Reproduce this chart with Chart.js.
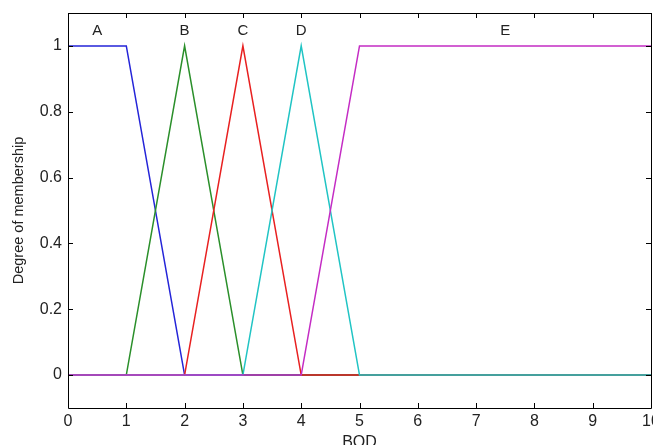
<!DOCTYPE html>
<html>
<head>
<meta charset="utf-8">
<script src="https://cdn.jsdelivr.net/npm/chart.js@4"></script>
<style>
  html, body { margin: 0; padding: 0; background: #fff; overflow: hidden; }
  #wrap { width: 653px; height: 445px; }
</style>
</head>
<body>
<div id="wrap"><canvas id="mf-chart"></canvas></div>
<script>
/*
Membership function data (BOD)
*/
const mfNames = ["A", "B", "C", "D", "E"];
const mfColors = ["#2424d8", "#2a8f2a", "#e82020", "#20c4c4", "#c42cc4"];

const xA = [0, 1, 2, 10];
const yA = [1, 1, 0, 0];
const xB = [0, 1, 2, 3, 10];
const yB = [0, 0, 1, 0, 0];
const xC = [0, 2, 3, 4, 10];
const yC = [0, 0, 1, 0, 0];
const xD = [0, 3, 4, 5, 10];
const yD = [0, 0, 1, 0, 0];
const xE = [0, 4, 5, 10];
const yE = [0, 0, 1, 1];

const nameX = [0.5, 2, 3, 4, 7.5];
const nameY = 1.045;

const xTicks = [0, 1, 2, 3, 4, 5, 6, 7, 8, 9, 10];
const yTicks = [0, 0.2, 0.4, 0.6, 0.8, 1];
const yTickLabels = ["0", "0.2", "0.4", "0.6", "0.8", "1"];

const xs = [xA, xB, xC, xD, xE];
const ys = [yA, yB, yC, yD, yE];

const FONT = "'Liberation Sans', Arial, sans-serif";

function toPoints(x, y) {
    return x.map((v, i) => ({ x: v, y: y[i] }));
}

/*
Box, inward ticks and the set names
*/
const boxPlugin = {
    id: "box",
    afterDraw(chart) {
        const ctx = chart.ctx;
        const a = chart.chartArea;
        const sx = chart.scales.x;
        const sy = chart.scales.y;
        const len = 5;
        ctx.save();
        ctx.strokeStyle = "#000";
        ctx.lineWidth = 1;
        ctx.beginPath();
        ctx.rect(Math.round(a.left) + 0.5, Math.round(a.top) + 0.5,
                 Math.round(a.right - a.left), Math.round(a.bottom - a.top));
        for (const v of xTicks) {
            const px = Math.round(sx.getPixelForValue(v)) + 0.5;
            ctx.moveTo(px, a.bottom); ctx.lineTo(px, a.bottom - len);
            ctx.moveTo(px, a.top); ctx.lineTo(px, a.top + len);
        }
        for (const v of yTicks) {
            const py = Math.round(sy.getPixelForValue(v)) + 0.5;
            ctx.moveTo(a.left, py); ctx.lineTo(a.left + len, py);
            ctx.moveTo(a.right, py); ctx.lineTo(a.right - len, py);
        }
        ctx.stroke();

        ctx.fillStyle = "#222";
        ctx.font = "15px " + FONT;
        ctx.textAlign = "center";
        ctx.textBaseline = "middle";
        mfNames.forEach((n, i) => {
            ctx.fillText(n, sx.getPixelForValue(nameX[i]), sy.getPixelForValue(nameY));
        });
        ctx.restore();
    }
};

const ctx = document.getElementById("mf-chart").getContext("2d");
const chart = new Chart(ctx, {
    type: "line",
    data: {
        datasets: mfNames.map((n, i) => ({
            label: n,
            data: toPoints(xs[i], ys[i]),
            borderColor: mfColors[i],
            backgroundColor: mfColors[i],
            borderWidth: 1.5,
            pointRadius: 0,
            tension: 0,
            fill: false,
            order: mfNames.length - i,
        }))
    },
    options: {
        responsive: true,
        maintainAspectRatio: false,
        animation: false,
        events: [],
        layout: { padding: { left: 0, right: 2, top: 13, bottom: 0 } },
        plugins: {
            legend: { display: false },
            tooltip: { enabled: false },
        },
        scales: {
            x: {
                type: "linear",
                min: 0,
                max: 10,
                grid: { display: false, drawTicks: false },
                border: { display: false },
                ticks: {
                    stepSize: 1,
                    padding: 4,
                    maxRotation: 0,
                    color: "#222",
                    font: { family: FONT, size: 16 },
                },
                title: {
                    display: true,
                    text: "BOD",
                    color: "#222",
                    font: { family: FONT, size: 16 },
                    padding: { top: 0, bottom: -7 },
                },
                afterFit(scale) {
                    scale.height = 37;
                    scale.paddingLeft = 0;
                    scale.paddingRight = 0;
                },
            },
            y: {
                min: -0.1,
                max: 1.1,
                grid: { display: false, drawTicks: false },
                border: { display: false },
                afterBuildTicks(scale) {
                    scale.ticks = yTicks.map(v => ({ value: v }));
                },
                ticks: {
                    padding: 6,
                    color: "#222",
                    font: { family: FONT, size: 16 },
                    callback: (v) => yTickLabels[yTicks.indexOf(v)],
                },
                title: {
                    display: true,
                    text: "Degree of membership",
                    color: "#222",
                    font: { family: FONT, size: 14.5 },
                    padding: { top: 10, bottom: 0 },
                },
                afterFit(scale) {
                    scale.width = 68;
                    scale.paddingTop = 0;
                    scale.paddingBottom = 0;
                },
            },
        },
    },
    plugins: [boxPlugin],
});
</script>
</body>
</html>
